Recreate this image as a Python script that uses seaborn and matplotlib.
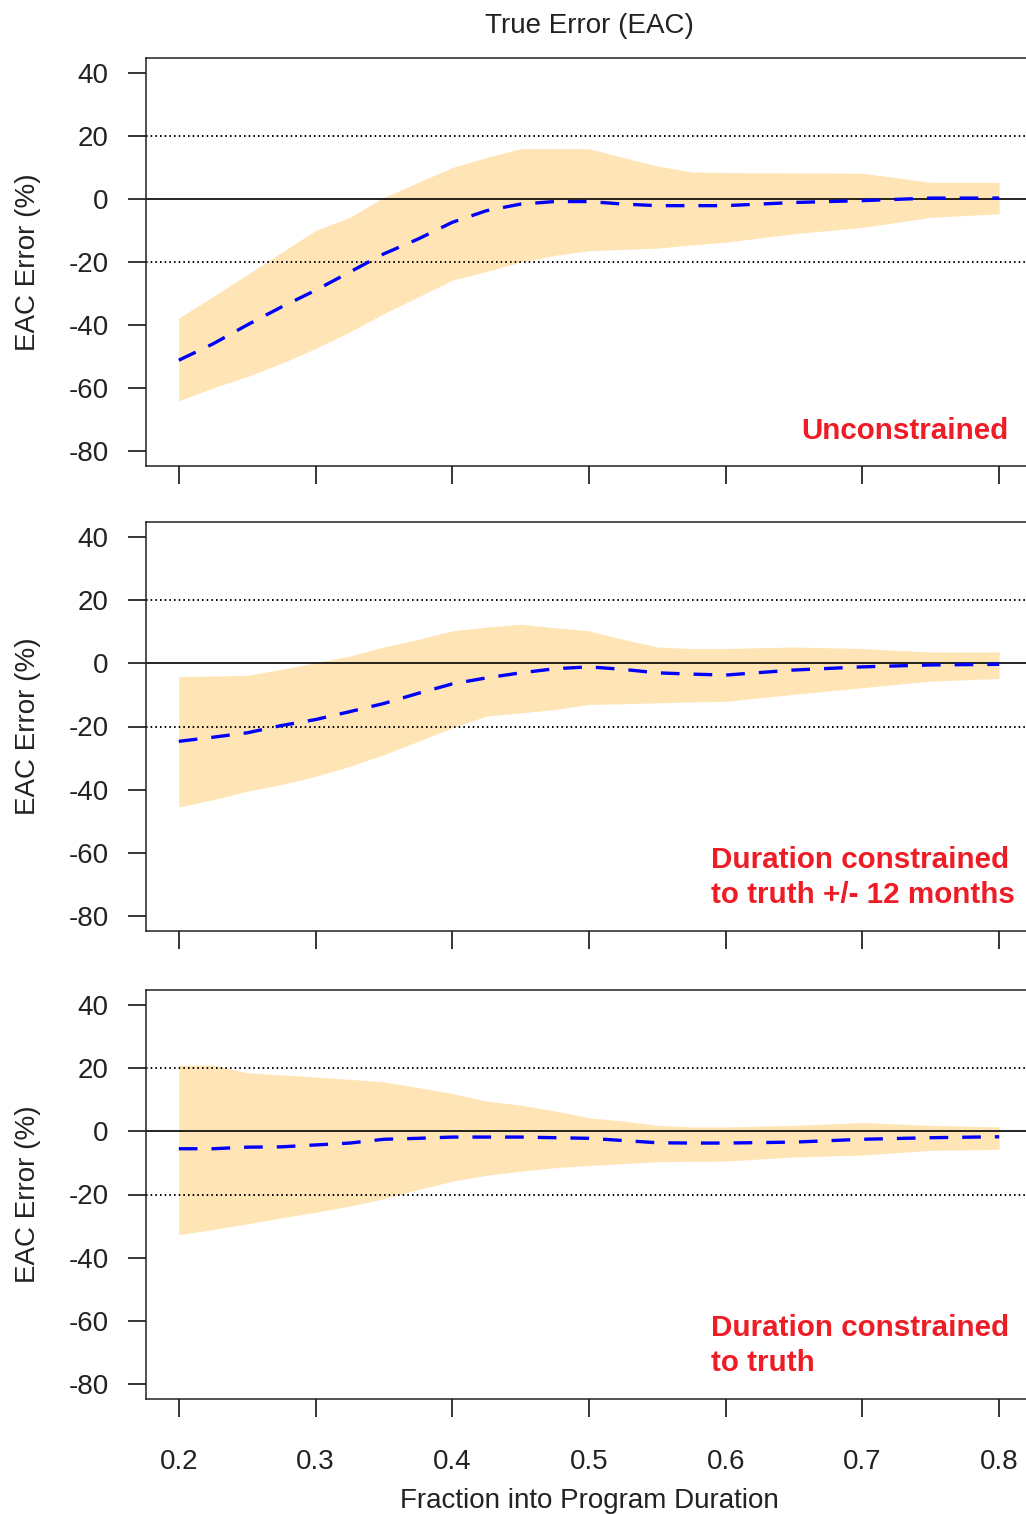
import numpy as np
import pandas as pd
import matplotlib
matplotlib.use("Agg")
import matplotlib.pyplot as plt
import seaborn as sns

# Fraction into program duration at which EAC error was evaluated
fraction = [0.2, 0.225, 0.25, 0.275, 0.3, 0.325, 0.35, 0.375, 0.4, 0.425, 0.45,
            0.475, 0.5, 0.525, 0.55, 0.575, 0.6, 0.65, 0.7, 0.75, 0.8]

# Unconstrained
upper_unc = [-37.8, -31.0, -24.0, -17.0, -10.0, -5.8, 0.5, 5.3, 10.0, 13.2, 16.0,
             16.0, 16.0, 13.2, 10.5, 8.6, 8.4, 8.3, 8.2, 5.3, 5.3]
lower_unc = [-64.1, -60.0, -56.4, -52.2, -47.5, -42.2, -36.4, -31.1, -25.8, -23.0, -20.0,
             -17.9, -16.4, -16.0, -15.6, -14.6, -13.7, -11.0, -9.0, -5.8, -4.7]
median_unc = [-51.2, -46.0, -40.0, -34.3, -29.0, -23.2, -17.4, -12.7, -7.4, -3.7, -1.6,
              -0.8, -0.8, -1.6, -2.1, -2.1, -2.1, -1.1, -0.5, 0.3, 0.3]

# Duration constrained to truth +/- 12 months
upper_12m = [-4.2, -4.0, -3.8, -1.9, 0.2, 2.3, 5.2, 7.6, 10.3, 11.5, 12.4,
             11.3, 10.3, 7.6, 5.2, 4.7, 4.7, 5.2, 4.7, 3.6, 3.6]
lower_12m = [-45.5, -43.2, -40.5, -38.4, -35.8, -32.6, -28.9, -24.7, -20.4, -16.7, -15.7,
             -14.6, -13.0, -12.8, -12.5, -12.2, -12.0, -9.8, -7.7, -5.6, -4.8]
median_12m = [-24.7, -23.4, -22.0, -19.7, -17.8, -15.3, -12.7, -9.5, -6.5, -4.6, -3.0,
              -1.7, -1.1, -1.9, -3.0, -3.4, -3.7, -2.1, -1.1, -0.5, -0.3]

# Duration constrained to truth
upper_tru = [21.0, 21.0, 18.6, 17.9, 17.2, 16.5, 15.7, 13.9, 12.0, 9.6, 8.3,
             6.5, 4.3, 3.3, 1.9, 1.4, 1.4, 1.9, 2.8, 1.9, 1.4]
lower_tru = [-32.7, -31.1, -29.3, -27.4, -25.6, -23.7, -21.3, -18.4, -15.8, -13.9, -12.6,
             -11.5, -10.8, -10.2, -9.6, -9.5, -9.4, -8.1, -7.5, -6.0, -5.7]
median_tru = [-5.5, -5.5, -5.0, -4.9, -4.3, -3.7, -2.5, -2.2, -1.8, -1.8, -1.8,
              -2.0, -2.2, -2.9, -3.6, -3.7, -3.7, -3.4, -2.5, -2.0, -1.7]

panel_labels = [["Unconstrained"],
                ["Duration constrained", "to truth +/- 12 months"],
                ["Duration constrained", "to truth"]]
x_ticks = [0.2, 0.3, 0.4, 0.5, 0.6, 0.7, 0.8]
y_ticks = [40, 20, 0, -20, -40, -60, -80]

panels = [
    (upper_unc, lower_unc, median_unc),
    (upper_12m, lower_12m, median_12m),
    (upper_tru, lower_tru, median_tru),
]

sns.set_style("ticks")
plt.rcParams["font.family"] = ["Liberation Sans", "DejaVu Sans"]
plt.rcParams["axes.linewidth"] = 1.1

W, H = 1026, 1514
fig = plt.figure(figsize=(W / 100, H / 100), dpi=100)

# pixel boxes (left, top, right, bottom)
boxes = [(146, 58, 1032, 466), (146, 522, 1032, 931), (146, 990, 1032, 1399)]

band_color = "#FFE4B5"
label_color = "#EE1C25"

for i, ((up, lo, med), (l, t, r, b)) in enumerate(zip(panels, boxes)):
    ax = fig.add_axes([l / W, (H - b) / H, (r - l) / W, (b - t) / H])
    df = pd.DataFrame({"fraction": fraction, "upper": up, "lower": lo, "median": med})

    ax.fill_between(df["fraction"], df["lower"], df["upper"],
                    color=band_color, lw=0, zorder=1)
    ax.axhline(0, color="black", lw=1.2, zorder=2)
    for yv in (20, -20):
        ax.axhline(yv, color="black", lw=1.4, ls=(0, (0.8, 1.6)), zorder=2)

    sns.lineplot(data=df, x="fraction", y="median", ax=ax, color="#0000FF",
                 lw=2.4, zorder=3)
    ax.lines[-1].set_dashes([5.6, 4.2])

    ax.set_xlim(0.176, 0.824)
    ax.set_ylim(-84.8, 44.8)
    ax.set_xticks(x_ticks)
    ax.set_yticks(y_ticks)
    ax.set_yticklabels([str(v) for v in y_ticks])
    ax.tick_params(axis="both", length=13, width=1.1, color="black",
                   labelsize=20, labelcolor="#222222")
    ax.tick_params(axis="y", pad=14)
    ax.tick_params(axis="x", pad=23)
    for s in ax.spines.values():
        s.set_color("#222222")
    ax.set_ylabel("EAC Error (%)", fontsize=20, color="#222222")
    ax.yaxis.set_label_coords(-0.119, 0.5)
    ax.set_xlabel("")

    if i < 2:
        ax.set_xticklabels([])
    else:
        ax.set_xticklabels([f"{v:.1f}" for v in x_ticks])
        ax.set_xlabel("Fraction into Program Duration", fontsize=20,
                      color="#222222", labelpad=9)

    lines = panel_labels[i]
    if len(lines) == 1:
        ax.text(0.8066, -76.3, lines[0], color=label_color, fontsize=21.3,
                fontweight="bold", ha="right", va="baseline")
    else:
        ax.text(0.589, -64.8, lines[0], color=label_color, fontsize=21.3,
                fontweight="bold", ha="left", va="baseline")
        ax.text(0.589, -76.0, lines[1], color=label_color, fontsize=21.3,
                fontweight="bold", ha="left", va="baseline")

    if i == 0:
        ax.set_title("True Error (EAC)", fontsize=20, color="#222222", pad=18)

fig.savefig("out.png", dpi=100)
